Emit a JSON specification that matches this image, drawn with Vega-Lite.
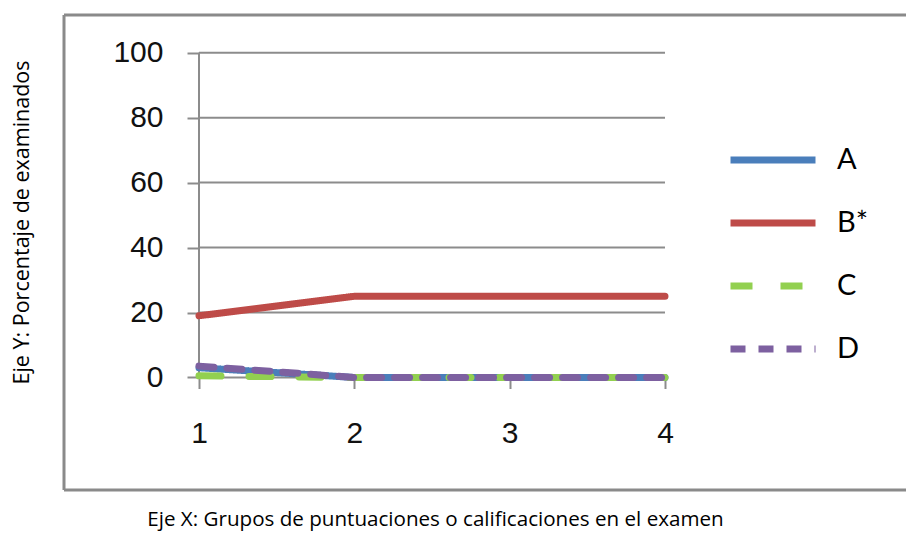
{
  "$schema": "https://vega.github.io/schema/vega-lite/v6.json",
  "width": 842,
  "height": 475,
  "autosize": {"type": "none"},
  "padding": {"left": 64, "top": 15, "right": 0, "bottom": 47},
  "background": "white",
  "config": {"view": {"stroke": null}},
  "data": {
    "values": [
      {"grupo": 1, "opcion": "A", "pct": 3},
      {"grupo": 2, "opcion": "A", "pct": 0},
      {"grupo": 3, "opcion": "A", "pct": 0},
      {"grupo": 4, "opcion": "A", "pct": 0},
      {"grupo": 1, "opcion": "B*", "pct": 19},
      {"grupo": 2, "opcion": "B*", "pct": 25},
      {"grupo": 3, "opcion": "B*", "pct": 25},
      {"grupo": 4, "opcion": "B*", "pct": 25},
      {"grupo": 1, "opcion": "C", "pct": 0.5},
      {"grupo": 2, "opcion": "C", "pct": 0},
      {"grupo": 3, "opcion": "C", "pct": 0},
      {"grupo": 4, "opcion": "C", "pct": 0},
      {"grupo": 1, "opcion": "D", "pct": 3.5},
      {"grupo": 2, "opcion": "D", "pct": 0},
      {"grupo": 3, "opcion": "D", "pct": 0},
      {"grupo": 4, "opcion": "D", "pct": 0}
    ]
  },
  "layer": [
    {
      "data": {"values": [{"pct": 0}, {"pct": 20}, {"pct": 40}, {"pct": 60}, {"pct": 80}, {"pct": 100}]},
      "mark": {"type": "rule", "color": "#8c8c8c", "strokeWidth": 2},
      "encoding": {
        "x": {"datum": 1, "type": "quantitative"},
        "x2": {"datum": 4},
        "y": {"field": "pct", "type": "quantitative"}
      }
    },
    {
      "data": {"values": [{}]},
      "mark": {"type": "rule", "color": "#8c8c8c", "strokeWidth": 2},
      "encoding": {
        "x": {"datum": 1, "type": "quantitative"},
        "y": {"datum": 0, "type": "quantitative"},
        "y2": {"datum": 100}
      }
    },
    {
      "data": {"values": [{}]},
      "mark": {"type": "rule", "color": "#8a8a8a", "strokeWidth": 3},
      "encoding": {
        "x": {"datum": 0.1309, "type": "quantitative"},
        "x2": {"datum": 5.5516},
        "y": {"datum": 111.6, "type": "quantitative"}
      }
    },
    {
      "data": {"values": [{}]},
      "mark": {"type": "rule", "color": "#8a8a8a", "strokeWidth": 3},
      "encoding": {
        "x": {"datum": 0.1309, "type": "quantitative"},
        "x2": {"datum": 5.5516},
        "y": {"datum": -34.64, "type": "quantitative"}
      }
    },
    {
      "data": {"values": [{}]},
      "mark": {"type": "rule", "color": "#8a8a8a", "strokeWidth": 3},
      "encoding": {
        "x": {"datum": 0.1309, "type": "quantitative"},
        "y": {"datum": -34.64, "type": "quantitative"},
        "y2": {"datum": 111.6}
      }
    },
    {
      "mark": {"type": "line", "strokeWidth": 7, "strokeCap": "round", "strokeJoin": "round"},
      "encoding": {
        "x": {
          "field": "grupo",
          "type": "quantitative",
          "scale": {"domain": [0.1309, 5.5516], "nice": false, "zero": false},
          "axis": {
            "orient": "bottom",
            "offset": -112.5,
            "values": [1, 2, 3, 4],
            "format": "d",
            "domain": false,
            "grid": false,
            "tickSize": 11,
            "tickColor": "#8c8c8c",
            "tickWidth": 2,
            "labelFont": "Liberation Sans",
            "labelFontSize": 30,
            "labelColor": "#111111",
            "labelPadding": 30,
            "title": "Eje X: Grupos de puntuaciones o calificaciones en el examen",
            "titleFont": "Open Sans",
            "titleFontSize": 20.6,
            "titleFontWeight": "normal",
            "titleColor": "#000000",
            "titleX": 371,
            "titleY": 141.5,
            "titleAlign": "center",
            "titleBaseline": "middle"
          }
        },
        "y": {
          "field": "pct",
          "type": "quantitative",
          "scale": {"domain": [-34.64, 111.6], "nice": false, "zero": false},
          "axis": {
            "orient": "left",
            "offset": -135,
            "values": [0, 20, 40, 60, 80, 100],
            "domain": false,
            "grid": false,
            "tickSize": 12,
            "tickColor": "#8c8c8c",
            "tickWidth": 2,
            "labelFont": "Liberation Sans",
            "labelFontSize": 30,
            "labelColor": "#111111",
            "labelPadding": 24,
            "title": "Eje Y: Porcentaje de examinados",
            "titleFont": "Open Sans",
            "titleFontSize": 21.5,
            "titleFontWeight": "normal",
            "titleColor": "#000000",
            "titleX": -177,
            "titleY": 207,
            "titleAngle": -90,
            "titleAlign": "center",
            "titleBaseline": "middle"
          }
        },
        "color": {
          "field": "opcion",
          "type": "nominal",
          "scale": {"domain": ["A", "B*", "C", "D"], "range": ["#4A7EBB", "#BE4B48", "#92D050", "#7D60A0"]},
          "legend": {
            "title": null,
            "orient": "none",
            "legendX": 663,
            "legendY": 99,
            "padding": 0,
            "symbolType": "stroke",
            "symbolSize": 7225,
            "symbolStrokeWidth": 7,
            "labelFont": "Lato",
            "labelFontSize": 29,
            "labelColor": "#000000",
            "labelOffset": 18,
            "rowPadding": 2
          }
        },
        "strokeDash": {
          "field": "opcion",
          "type": "nominal",
          "scale": {"domain": ["A", "B*", "C", "D"], "range": [[1, 0], [1, 0], [22, 28], [15, 13]]}
        }
      }
    }
  ]
}
